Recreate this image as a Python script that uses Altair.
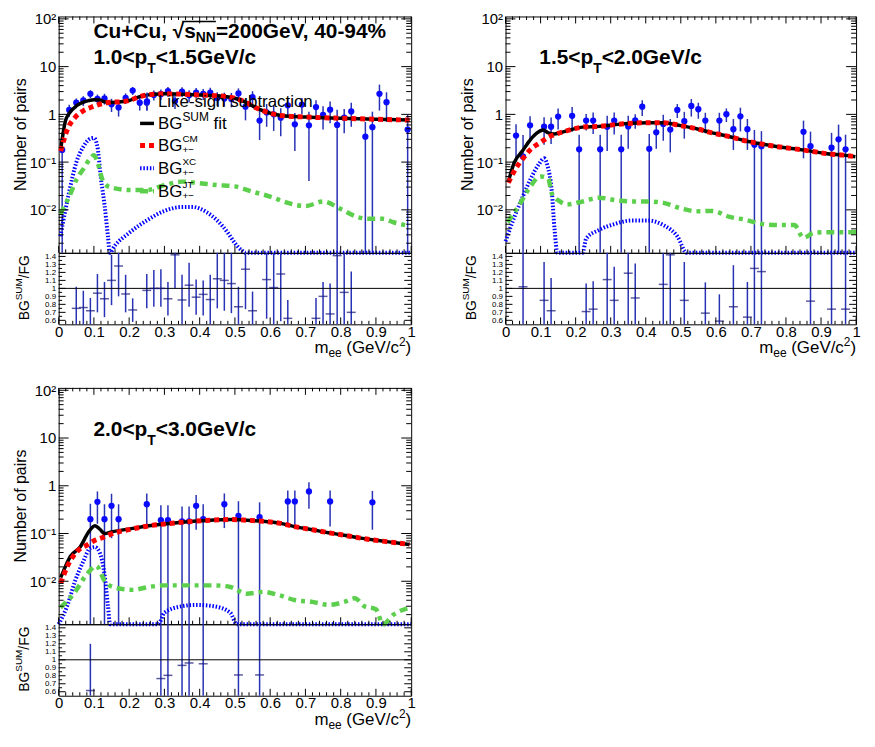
import altair as alt
import pandas as pd
import numpy as np

FONT = "Liberation Sans"
W_L, W_R = 355, 353
HM, HR = 238, 72
GAP = 64
SY = HM / 242.0
YMIN, YMAX = 10 ** -2.9, 10 ** 2.05
RMIN, RMAX = 0.55, 1.445

DOT = "#0a0aff"
BAR = "#2832b4"
RTK = "#15157a"
RED = "#ff0000"
BLUE = "#0000ff"
GREEN = "#5ccf4c"

# ---------------- panel A : 1.0<pT<1.5 ----------------
A_m = [.01, .03, .05, .07, .09, .11, .13, .15, .17, .19,
       .21, .23, .25, .27, .29, .31, .33, .35, .37, .39,
       .41, .43, .45, .47, .49, .51, .53, .55, .57, .59,
       .61, .63, .65, .67, .69, .71, .73, .75, .77, .79,
       .81, .83, .87, .89, .91, .93, .99]
A_v = [.18, 1.24, 1.75, 1.95, 2.7, 2.1, 2.15, 1.62, 1.4, 2.2,
       3.15, 1.75, 1.75, 2.55, 2.65, 3.05, 1.9, 3.0, 2.5, 2.85,
       2.7, 2.85, 2.2, 2.15, 2.1, 2.75, 1.45, 2.3, .74, 1.1,
       1.0, .85, 1.55, .62, 1.6, .59, 1.42, .98, 1.25, .6,
       .85, 1.15, .34, .54, 2.7, 1.8, .48]
A_e = [.2, .35, .4, .45, .5, .5, .55, .5, .5, .55,
       .6, .55, .55, .6, .65, .7, .6, .7, .7, .7,
       .7, .75, .7, .7, .7, .75, .7, .75, .45, .55,
       .55, .5, .6, .45, .6, .55, .55, .5, .6, .65,
       .45, .6, .35, .6, 1.5, 1.1, .5]
A_rm = [.05, .07, .09, .11, .13, .15, .17, .19, .21, .25, .27, .29, .31, .33, .35, .37, .39, .41,
        .43, .45, .47, .49, .51, .53, .55, .59, .61, .63, .65, .73, .75, .77, .79, .81, .83]
A_r = [.75, .76, .72, .94, .87, 1.10, 1.28, .93, .73, .975, 1.0, 1.0, .87, 1.42, .855, 1.04, .89, .925,
       .86, 1.12, 1.10, 1.06, .77, 1.24, .72, 1.11, 1.01, 1.18, .625, .625, .90, .68, 1.41, .95, .70]
A_rlo = [.5, .5, .5, .70, .64, .79, .90, .70, .58, .75, .77, .77, .66, 1.0, .5, .77, .67, .66,
         .5, .75, .72, .69, .5, .74, .5, .62, .5, .59, .5, .5, .5, .5, .5, .5, .5]
A_rhi = [1.02, .97, .88, 1.18, 1.08, 1.42, 1.6, 1.17, .875, 1.18, 1.23, 1.24, 1.08, 1.6, 1.17, 1.32, 1.11, 1.10,
         1.17, 1.6, 1.6, 1.6, 1.02, 1.6, .96, 1.6, 1.6, 1.6, .855, .88, 1.08, 1.06, 1.6, 1.6, 1.21]
A_sum_m = [.006, .02, .03, .05, .07, .085, .1, .115, .13, .15, .177, .2, .23, .27, .3, .35, .4, .45, .5,
           .53, .56, .6, .63, .7, .8, .9, .995]
A_sum_v = [.19, .76, 1.05, 1.5, 1.8, 1.94, 2.02, 2.0, 1.83, 1.78, 1.83, 1.95, 2.35, 2.65, 2.7, 2.65, 2.55,
           2.45, 2.17, 1.8, 1.37, 1.06, .95, .88, .83, .79, .76]
A_cm_m = [.006, .024, .047, .07, .094, .126, .152, .177, .2, .23, .27, .3, .35, .4, .45, .5, .53, .56, .6,
          .63, .7, .8, .9, .995]
A_cm_v = [.17, .47, .87, 1.19, 1.43, 1.69, 1.8, 1.83, 1.95, 2.35, 2.65, 2.7, 2.65, 2.55, 2.45, 2.17, 1.8,
          1.37, 1.06, .95, .88, .83, .79, .76]
A_xc_m = [.005, .03, .05, .07, .09, .1, .11, .12, .13, .14, .145, .16, .2, .25, .3, .35, .38, .42, .45,
          .48, .5, .52, .53, 1.0]
A_xc_v = [.0028, .024, .098, .21, .31, .32, .21, .045, .013, .0027, .0001, .0018, .0033, .006, .0095,
          .0115, .0115, .0089, .006, .0033, .002, .0014, .0001, .0001]
A_jt_m = [.005, .03, .05, .07, .09, .1, .11, .125, .145, .2, .25, .3, .35, .4, .45, .5, .55, .6, .65,
          .7, .75, .8, .85, .88, .92, .95, .995]
A_jt_v = [.0082, .019, .042, .072, .12, .14, .1, .042, .03, .026, .026, .033, .039, .036, .033, .031,
          .024, .019, .014, .012, .015, .0104, .007, .0065, .0065, .0055, .0046]

# ---------------- panel B : 1.5<pT<2.0 ----------------
B_m = [.03, .05, .07, .11, .13, .15, .19, .21, .23, .25,
       .27, .29, .31, .33, .35, .37, .39, .41, .43, .45,
       .47, .49, .51, .53, .55, .57, .61, .63, .65, .67,
       .69, .71, .73, .85, .87, .93, .95, .97]
B_v = [.36, .13, .59, .55, .55, .9, .93, .185, .74, .74,
       .185, .55, .74, .185, .56, .75, 1.45, .19, .42, .63,
       .48, 1.24, .72, 1.5, 1.28, .74, .74, 1.01, .49, .91,
       .49, .23, .215, .43, .215, .2, .3, .185]
B_e = [.26, .24, .32, .32, .31, .42, .5, .19, .28, .35,
       .19, .38, .36, .19, .37, .25, .53, .2, .23, .35,
       .32, .4, .41, .6, .47, .34, .34, .32, .31, .47,
       .31, .24, .23, .31, .22, .21, .31, .19]
B_rm = [.05, .11, .13, .23, .25, .29, .31, .35, .37, .45, .47, .51, .57, .61, .65, .69, .71, .73, .87, .93, .97]
B_r = [1.02, .85, .72, .71, .74, 1.11, .85, 1.19, .88, 1.05, 1.42, .85, .69, .59, .77, .64, 1.25, 1.21, .84, .74, .74]
B_rlo = [.5] * 21
B_rhi = [1.6, 1.33, 1.13, 1.06, 1.09, 1.6, 1.27, 1.6, 1.31, 1.6, 1.6, 1.33, 1.075, .925, 1.29, 1.08, 1.6, 1.6,
         1.6, 1.6, 1.6]
B_sum_m = [.008, .025, .048, .07, .09, .107, .122, .14, .15, .174, .22, .267, .313, .36, .405, .45, .5, .545,
           .59, .64, .684, .73, .777, .824, .87, .917, .963, .998]
B_sum_v = [.039, .098, .17, .29, .41, .47, .41, .39, .4, .45, .54, .56, .61, .65, .67, .67, .58, .5,
           .41, .34, .28, .24, .21, .19, .17, .15, .14, .13]
B_cm_m = [.008, .03, .05, .07, .1, .125, .15, .174, .22, .267, .313, .36, .405, .45, .5, .545, .59, .64,
          .684, .73, .777, .824, .87, .917, .963, .998]
B_cm_v = [.037, .075, .12, .18, .26, .34, .4, .45, .54, .56, .61, .65, .67, .67, .58, .5, .41, .34,
          .28, .24, .21, .19, .17, .15, .14, .13]
B_xc_m = [.0, .025, .048, .07, .095, .11, .12, .132, .14, .148, .22, .23, .267, .313, .36, .405, .45, .49,
          .517, 1.0]
B_xc_v = [.0022, .007, .018, .042, .09, .12, .083, .024, .0038, .0001, .0001, .0025, .0038, .0051, .006,
          .006, .0048, .0028, .0001, .0001]
B_jt_m = [.006, .04, .067, .1, .122, .132, .155, .174, .22, .267, .313, .36, .405, .45, .5, .545, .59, .64,
          .684, .73, .777, .824, .85, .88, .917, .963, 1.0]
B_jt_v = [.0055, .013, .028, .05, .045, .022, .015, .013, .015, .018, .016, .015, .015, .014, .0108, .0093,
          .0095, .0071, .0062, .0051, .0048, .0048, .0026, .0033, .0034, .0034, .0034]

# ---------------- panel C : 2.0<pT<3.0 ----------------
C_m = [.09, .11, .13, .15, .17, .25, .29, .31, .35, .37, .39, .41, .47, .51, .57, .65, .67, .71, .77, .89]
C_v = [.2, .46, .2, .38, .2, .41, .19, .19, .18, .18, .38, .2, .41, .235, .22, .47, .47, .76, .47, .45]
C_e = [.22, .3, .21, .3, .21, .28, .2, .2, .19, .19, .26, .21, .28, .24, .23, .33, .33, .43, .33, .33]
C_rm = [.09, .29, .31, .35, .37, .41, .51, .57]
C_r = [.615, .765, .805, .93, .96, .95, .81, .81]
C_rlo = [.5] * 8
C_rhi = [1.2, 1.6, 1.6, 1.6, 1.6, 1.6, 1.6, 1.6]
C_sum_m = [.006, .02, .033, .061, .084, .103, .117, .13, .15, .21, .256, .3, .35, .39, .44, .49, .533, .58,
           .626, .672, .72, .765, .81, .857, .9, .95, .995]
C_sum_v = [.012, .021, .033, .052, .105, .146, .123, .1, .108, .128, .145, .158, .172, .182, .192, .196,
           .19, .18, .165, .138, .12, .104, .092, .08, .072, .065, .059]
C_cm_m = [.006, .024, .052, .08, .103, .126, .15, .21, .256, .3, .35, .39, .44, .49, .533, .58, .626, .672,
          .72, .765, .81, .857, .9, .95, .995]
C_cm_v = [.0091, .02, .042, .057, .072, .083, .098, .125, .145, .158, .172, .182, .192, .196, .19, .18,
          .165, .138, .12, .104, .092, .08, .072, .065, .059]
C_xc_m = [.0, .024, .047, .07, .089, .103, .117, .13, .14, .146, .283, .3, .35, .39, .44, .487, .505, 1.0]
C_xc_v = [.0001, .003, .0103, .026, .049, .052, .039, .014, .003, .0001, .0001, .0022, .003, .0032, .003,
          .0022, .0001, .0001]
C_jt_m = [.005, .043, .08, .107, .13, .154, .21, .256, .3, .35, .39, .44, .487, .533, .58, .626, .672, .72,
          .765, .81, .84, .867, .9, .92, .95, .995]
C_jt_v = [.0028, .0055, .014, .021, .0103, .0076, .0066, .0076, .0082, .0082, .0082, .0082, .0076, .0055,
          .006, .0051, .004, .0037, .0032, .0037, .0044, .003, .0026, .0011, .002, .0028]

# ---------------- axes / ticks ----------------
X_TICKS = [0, 0.1, 0.2, 0.3, 0.4, 0.5, 0.6, 0.7, 0.8, 0.9, 1.0]
X_MINOR = [round(i * 0.02, 2) for i in range(51) if i % 5]
Y_MAJOR = [0.01, 0.1, 1, 10, 100]
Y_MINOR = [k * 10.0 ** p for p in range(-3, 2) for k in range(2, 10) if YMIN <= k * 10.0 ** p <= YMAX]
R_LABELS = [0.6, 0.7, 0.8, 0.9, 1.0, 1.1, 1.2, 1.3, 1.4]
R_MINOR = [0.65, 0.75, 0.85, 0.95, 1.05, 1.15, 1.25, 1.35]

XS = alt.Scale(domain=[0, 1], nice=False, zero=False, clamp=True)
YS = alt.Scale(type="log", domain=[YMIN, YMAX], clamp=True, nice=False)
RS = alt.Scale(domain=[RMIN, RMAX], clamp=True, nice=False, zero=False)

YAX = alt.Axis(values=Y_MAJOR,
               labelExpr="datum.value > 50 ? '10²' : datum.value > 5 ? '10' : datum.value > 0.5 ? '1' : datum.value > 0.05 ? '10⁻¹' : '10⁻²'",
               ticks=False, tickSize=0, domain=False, grid=False, title=None, labelFont=FONT,
               labelFontSize=15, labelPadding=3, labelColor="black", labelOverlap=False)
RAX = alt.Axis(values=R_LABELS, labelExpr="datum.value == 1 ? '1' : format(datum.value, '.1f')",
               ticks=False, tickSize=0, domain=False, grid=False, title=None, labelFont=FONT,
               labelFontSize=8, labelPadding=3, labelColor="black", labelOverlap=False)
XAX = alt.Axis(values=X_TICKS,
               labelExpr="datum.value == 0 ? '0' : datum.value == 1 ? '1' : format(datum.value, '.1f')",
               ticks=False, tickSize=0, domain=False, grid=False, title=None, labelFont=FONT,
               labelFontSize=15, labelPadding=0, labelColor="black", labelOverlap=False, labelFlush=False)


def X(f, ratio=False):
    return alt.X(f, type="quantitative", scale=XS, axis=(XAX if ratio else None))


def Y(f):
    return alt.Y(f, type="quantitative", scale=YS, axis=YAX)


def R(f):
    return alt.Y(f, type="quantitative", scale=RS, axis=RAX)


DUMMY = pd.DataFrame({"a": [0]})

BOLD = {'C': 722, 'u': 611, '+': 584, ',': 278, ' ': 278, 's': 556, 'N': 722, '=': 584, '0': 556, '1': 556,
        '2': 556, '3': 556, '4': 556, '5': 556, '9': 556, 'G': 778, 'e': 556, 'V': 667, '-': 333, '%': 889,
        '.': 278, '<': 584, 'p': 611, 'T': 611, '/': 278, 'c': 556, '√': 549}


def wb(s, size):
    return sum(BOLD[c] for c in s) * size / 1000.0


def T(text, x, y, size, bold=False, align="left", angle=0, color="black"):
    kw = dict(align=align, baseline="alphabetic", font=FONT, fontSize=size, color=color)
    if bold:
        kw["fontWeight"] = "bold"
    if angle:
        kw["angle"] = angle
    return alt.Chart(pd.DataFrame({"t": [text]})).mark_text(**kw).encode(
        x=alt.value(x), y=alt.value(y), text="t:N")


STY_SUM = dict(color="black", strokeWidth=3.5)
STY_CM = dict(color=RED, strokeWidth=5, strokeDash=[5, 4])
STY_XC = dict(color=BLUE, strokeWidth=4, strokeDash=[1.5, 1.8])
STY_JT = dict(color=GREEN, strokeWidth=4.5, strokeDash=[8, 5, 4, 5])


def pt_label(x0, lo, hi):
    t1 = f"{lo}<p"
    w1 = wb(t1, 21)
    return [T(t1, x0, 49 * SY, 21, bold=True),
            T("T", x0 + w1, 49 * SY + 9, 14, bold=True),
            T(f"<{hi}GeV/c", x0 + w1 + wb("T", 14), 49 * SY, 21, bold=True)]


def main_panel(W, m, v, e, curves, extra):
    pts = pd.DataFrame({"m": m, "v": v, "e": e})
    pts["lo"] = (pts["v"] - pts["e"]).clip(lower=1e-6)
    pts["hi"] = pts["v"] + pts["e"]
    base = alt.Chart(pts)
    layers = [
        base.mark_rule(color=BAR, strokeWidth=1.5).encode(x=X("m"), y=Y("lo"), y2=alt.Y2("hi")),
        base.mark_circle(color=DOT, size=40, opacity=1).encode(x=X("m"), y=Y("v")),
    ]
    for cm, cv, sty in curves:
        df = pd.DataFrame({"m": cm, "v": cv})
        layers.append(alt.Chart(df).mark_line(interpolate="monotone", **sty).encode(x=X("m"), y=Y("v")))
    xt = alt.Chart(pd.DataFrame({"t": X_TICKS}))
    xm = alt.Chart(pd.DataFrame({"t": X_MINOR}))
    yt = alt.Chart(pd.DataFrame({"t": Y_MAJOR}))
    ym = alt.Chart(pd.DataFrame({"t": Y_MINOR}))
    tk = dict(color="black", strokeWidth=1)
    layers += [
        xt.mark_rule(**tk).encode(x=X("t"), y=alt.value(HM), y2=alt.value(HM - 7)),
        xm.mark_rule(**tk).encode(x=X("t"), y=alt.value(HM), y2=alt.value(HM - 3.5)),
        xt.mark_rule(**tk).encode(x=X("t"), y=alt.value(0), y2=alt.value(7)),
        xm.mark_rule(**tk).encode(x=X("t"), y=alt.value(0), y2=alt.value(3.5)),
        yt.mark_rule(**tk).encode(y=Y("t"), x=alt.value(0), x2=alt.value(10)),
        ym.mark_rule(**tk).encode(y=Y("t"), x=alt.value(0), x2=alt.value(5)),
        yt.mark_rule(**tk).encode(y=Y("t"), x=alt.value(W - 10), x2=alt.value(W)),
        ym.mark_rule(**tk).encode(y=Y("t"), x=alt.value(W - 5), x2=alt.value(W)),
        T("Number of pairs", -33, HM / 2, 16, align="center", angle=270),
    ]
    layers += extra
    return alt.layer(*layers).properties(width=W, height=HM)


def ratio_panel(W, m, r, lo, hi):
    df = pd.DataFrame({"m": m, "r": r, "lo": lo, "hi": hi})
    base = alt.Chart(df)
    xt = alt.Chart(pd.DataFrame({"t": X_TICKS}))
    xm = alt.Chart(pd.DataFrame({"t": X_MINOR}))
    rt = alt.Chart(pd.DataFrame({"t": R_LABELS}))
    rmn = alt.Chart(pd.DataFrame({"t": R_MINOR}))
    tk = dict(color="black", strokeWidth=1)
    yb = HR + 29
    layers = [
        base.mark_rule(color=BAR, strokeWidth=1.5).encode(x=X("m", True), y=R("lo"), y2=alt.Y2("hi")),
        alt.Chart(pd.DataFrame({"one": [1.0]})).mark_rule(color="black", strokeWidth=1).encode(y=R("one")),
        base.mark_tick(orient="horizontal", size=9, thickness=1.5, color=RTK).encode(x=X("m", True), y=R("r")),
        xt.mark_rule(**tk).encode(x=X("t", True), y=alt.value(HR), y2=alt.value(HR - 7)),
        xm.mark_rule(**tk).encode(x=X("t", True), y=alt.value(HR), y2=alt.value(HR - 3.5)),
        rt.mark_rule(**tk).encode(y=R("t"), x=alt.value(0), x2=alt.value(7)),
        rmn.mark_rule(**tk).encode(y=R("t"), x=alt.value(0), x2=alt.value(3.5)),
        rt.mark_rule(**tk).encode(y=R("t"), x=alt.value(W - 7), x2=alt.value(W)),
        rmn.mark_rule(**tk).encode(y=R("t"), x=alt.value(W - 3.5), x2=alt.value(W)),
        T("BG", -30, HR - 4, 14, angle=270),
        T("SUM", -37, HR - 4 - 20.2, 10, angle=270),
        T("/FG", -30, HR - 4 - 20.2 - 22.2, 14, angle=270),
        T(")", W, yb, 17, align="right"),
        T("2", W - 5.7, yb - 7, 12, align="right"),
        T("(GeV/c", W - 12.4, yb, 17, align="right"),
        T("ee", W - 70, yb + 4, 12, align="right"),
        T("m", W - 83.3, yb, 17, align="right"),
    ]
    return alt.layer(*layers).properties(width=W, height=HR)


def legend_A():
    ys = [87 * SY, 109.5 * SY, 132 * SY, 155.5 * SY, 179 * SY]
    x1, x2, xt, xs = 82, 96, 100, 89
    d = alt.Chart(DUMMY)
    L = [
        d.mark_rule(color=BAR, strokeWidth=1.5).encode(x=alt.value(xs), y=alt.value(ys[0] - 9),
                                                        y2=alt.value(ys[0] + 9)),
        d.mark_circle(color=DOT, size=40, opacity=1).encode(x=alt.value(xs), y=alt.value(ys[0])),
        T("Like-sign subtraction", xt, ys[0] + 6, 17),
        d.mark_rule(**STY_SUM).encode(x=alt.value(x1), x2=alt.value(x2), y=alt.value(ys[1])),
        T("BG", xt, ys[1] + 6, 17),
        T("SUM", xt + 24.6, ys[1] - 2.4, 12),
        T("fit", xt + 24.6 + 26.7 + 4.7, ys[1] + 6, 17),
    ]
    for i, (sup, sty) in enumerate([("CM", STY_CM), ("XC", STY_XC), ("JT", STY_JT)]):
        y = ys[2 + i]
        L += [
            d.mark_rule(**sty).encode(x=alt.value(x1), x2=alt.value(x2), y=alt.value(y)),
            T("BG", xt, y + 6, 17),
            T(sup, xt + 24.6, y - 3.5, 10),
            T("+−", xt + 24.6, y + 8, 10),
        ]
    return L


def title_A():
    x0 = 35
    yb = 22 * SY
    xr = x0 + wb("Cu+Cu, ", 21)
    xs = xr + wb("√", 21)
    xn = xs + wb("s", 21)
    xe = xn + wb("NN", 14)
    d = alt.Chart(DUMMY)
    return [
        T("Cu+Cu,", x0, yb, 21, bold=True),
        T("√", xr, yb, 21, bold=True),
        T("s", xs, yb, 21, bold=True),
        T("NN", xn, yb + 4, 14, bold=True),
        T("=200GeV, 40-94%", xe, yb, 21, bold=True),
        d.mark_rule(color="black", strokeWidth=1.5).encode(x=alt.value(xr + 9.5), x2=alt.value(xe),
                                                          y=alt.value(yb - 16.5)),
    ]


def blank(W, H):
    return alt.Chart(DUMMY).mark_point(opacity=0).encode(
        x=alt.value(0), y=alt.value(0)
    ).properties(width=W, height=H, view=alt.ViewBackground(stroke="transparent", fill="transparent"))


curvesA = [(A_xc_m, A_xc_v, STY_XC), (A_jt_m, A_jt_v, STY_JT), (A_sum_m, A_sum_v, STY_SUM),
           (A_cm_m, A_cm_v, STY_CM)]
curvesB = [(B_xc_m, B_xc_v, STY_XC), (B_jt_m, B_jt_v, STY_JT), (B_sum_m, B_sum_v, STY_SUM),
           (B_cm_m, B_cm_v, STY_CM)]
curvesC = [(C_xc_m, C_xc_v, STY_XC), (C_jt_m, C_jt_v, STY_JT), (C_sum_m, C_sum_v, STY_SUM),
           (C_cm_m, C_cm_v, STY_CM)]

mainA = main_panel(W_L, A_m, A_v, A_e, curvesA, title_A() + pt_label(35, "1.0", "1.5") + legend_A())
mainB = main_panel(W_R, B_m, B_v, B_e, curvesB, pt_label(34, "1.5", "2.0"))
mainC = main_panel(W_L, C_m, C_v, C_e, curvesC, pt_label(35, "2.0", "3.0"))
ratA = ratio_panel(W_L, A_rm, A_r, A_rlo, A_rhi)
ratB = ratio_panel(W_R, B_rm, B_r, B_rlo, B_rhi)
ratC = ratio_panel(W_L, C_rm, C_r, C_rlo, C_rhi)

chart = alt.concat(
    mainA, mainB,
    ratA, ratB,
    blank(W_L, GAP), blank(W_R, GAP),
    mainC, blank(W_R, HM),
    ratC,
    columns=2, spacing={"row": 0, "column": 95}, bounds="flush"
).properties(
    padding={"left": 4, "top": 0, "right": 1, "bottom": 1}
).configure_view(stroke="black", strokeWidth=1).configure_axis(grid=False)

chart.save("out.html", embed_options={"renderer": "svg", "actions": False})
